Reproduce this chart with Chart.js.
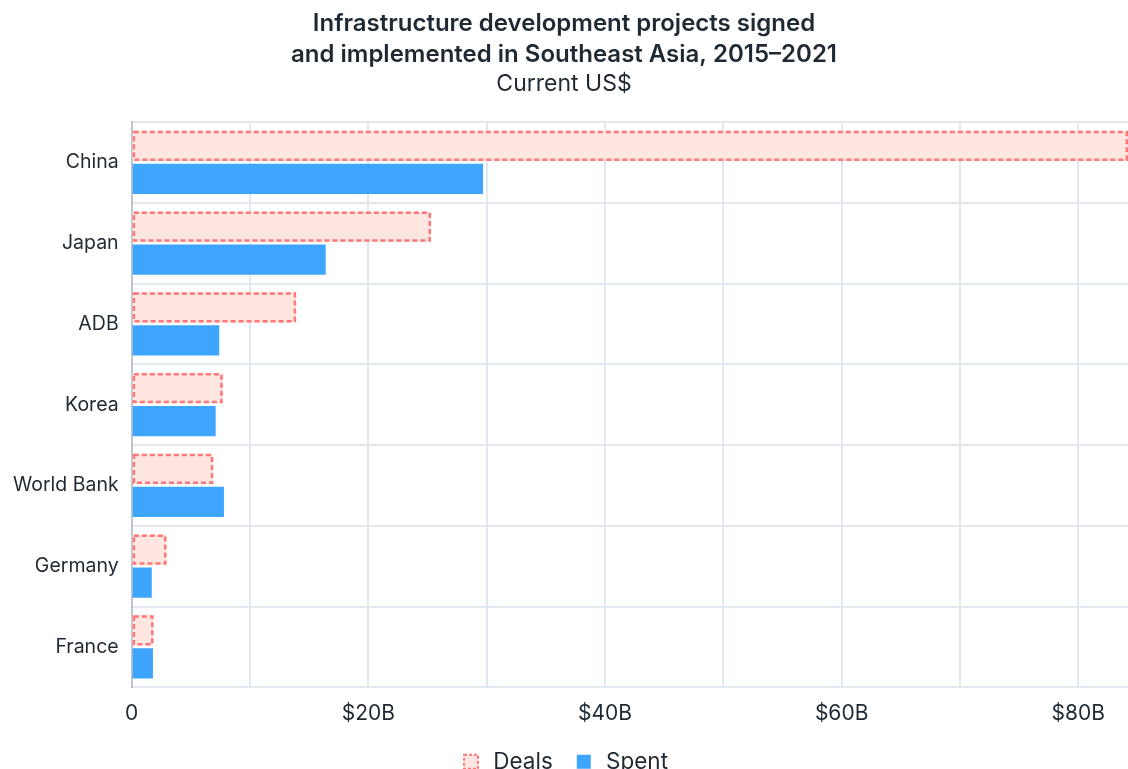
<!DOCTYPE html>
<html lang="en">
<head>
    <meta charset="UTF-8">
    <title>Infrastructure development projects in Southeast Asia</title>
    <script src="https://cdn.jsdelivr.net/npm/chart.js"></script>
    <style>
        body { margin: 0; background: #ffffff; overflow: hidden; }
        #wrap { width: 1128px; height: 769px; }
    </style>
</head>
<body>
    <div id="wrap">
        <canvas id="myChart" width="1128" height="769"></canvas>
    </div>
    <script>
        // Values in billions of current US$
        const categories = ['China', 'Japan', 'ADB', 'Korea', 'World Bank', 'Germany', 'France'];
        const dealsValues = [84.2, 25.3, 13.9, 7.7, 6.9, 2.95, 1.85];
        const spentValues = [29.7, 16.4, 7.4, 7.1, 7.8, 1.7, 1.8];
        const titleLines = ['Infrastructure development projects signed', 'and implemented in Southeast Asia, 2015\u20132021'];
        const subtitleText = 'Current US$';

        const textColor = '#1f2933';
        const gridColor = '#e2e8f0';
        const dealsFill = '#ffe6e1';
        const dealsBorder = '#ff7777';
        const spentFill = '#3ea5ff';

        // Chart.js bars have no dashed border, so stroke it ourselves
        const dashedBorder = {
            id: 'dashedBorder',
            afterDatasetsDraw(chart) {
                const ctx = chart.ctx;
                const meta = chart.getDatasetMeta(0);
                ctx.save();
                ctx.strokeStyle = dealsBorder;
                ctx.lineWidth = 2.5;
                ctx.setLineDash([5, 3]);
                meta.data.forEach(bar => {
                    const p = bar.getProps(['x', 'y', 'base', 'height'], true);
                    const left = Math.min(p.base, p.x);
                    const right = Math.max(p.base, p.x);
                    const top = p.y - p.height / 2;
                    ctx.strokeRect(left + 1.25, top + 1.25, right - left - 2.5, p.height - 2.5);
                });
                ctx.restore();
            }
        };

        const ctx = document.getElementById('myChart').getContext('2d');
        const myChart = new Chart(ctx, {
            type: 'bar',
            data: {
                labels: categories,
                datasets: [
                    {
                        label: 'Deals',
                        data: dealsValues,
                        backgroundColor: dealsFill,
                        borderWidth: 0,
                    },
                    {
                        label: 'Spent',
                        data: spentValues,
                        backgroundColor: spentFill,
                        borderWidth: 0,
                    },
                ],
            },
            options: {
                indexAxis: 'y',
                responsive: false,
                animation: false,
                categoryPercentage: 0.815,
                barPercentage: 0.92,
                // negative bottom padding: the legend sits partly below the picture, as in the original
                layout: { padding: { left: 0, right: 0, top: 0, bottom: -14 } },
                scales: {
                    x: {
                        min: 0,
                        max: Math.max(...dealsValues),
                        afterFit: scale => { scale.height -= 10; },
                        border: { color: gridColor, width: 2 },
                        grid: { color: gridColor, lineWidth: 2, drawTicks: false },
                        ticks: {
                            stepSize: 10,
                            includeBounds: false,
                            padding: 14,
                            color: textColor,
                            font: { family: 'Inter', size: 21 },
                            callback: value => {
                                if (value === 0) return '0';
                                return value % 20 === 0 ? '$' + value + 'B' : '';
                            },
                        },
                    },
                    y: {
                        border: { color: '#bcc4cf', width: 2 },
                        grid: { color: gridColor, lineWidth: 2, drawTicks: false },
                        ticks: {
                            padding: 13,
                            color: textColor,
                            font: { family: 'Inter', size: 19.5 },
                        },
                    },
                },
                plugins: {
                    title: {
                        display: true,
                        text: titleLines,
                        color: textColor,
                        font: { family: 'Inter', size: 24, weight: '600', lineHeight: 1.3 },
                        padding: { top: 8, bottom: 0 },
                    },
                    subtitle: {
                        display: true,
                        text: subtitleText,
                        color: textColor,
                        font: { family: 'Inter', size: 23, weight: '400', lineHeight: 1.2 },
                        padding: { top: 0, bottom: 24 },
                    },
                    legend: {
                        position: 'bottom',
                        labels: {
                            color: textColor,
                            usePointStyle: true,
                            boxWidth: 22,
                            boxHeight: 14,
                            padding: 20,
                            font: { family: 'Inter', size: 22.5 },
                            generateLabels: chart => chart.data.datasets.map((ds, i) => ({
                                text: ds.label,
                                pointStyle: 'rect',
                                fillStyle: ds.backgroundColor,
                                strokeStyle: i === 0 ? dealsBorder : ds.backgroundColor,
                                lineWidth: i === 0 ? 2 : 0,
                                lineDash: i === 0 ? [3, 2] : [],
                                fontColor: textColor,
                                hidden: !chart.isDatasetVisible(i),
                                datasetIndex: i,
                            })),
                        },
                    },
                    tooltip: { enabled: false },
                },
            },
            plugins: [dashedBorder],
        });
    </script>
</body>
</html>
